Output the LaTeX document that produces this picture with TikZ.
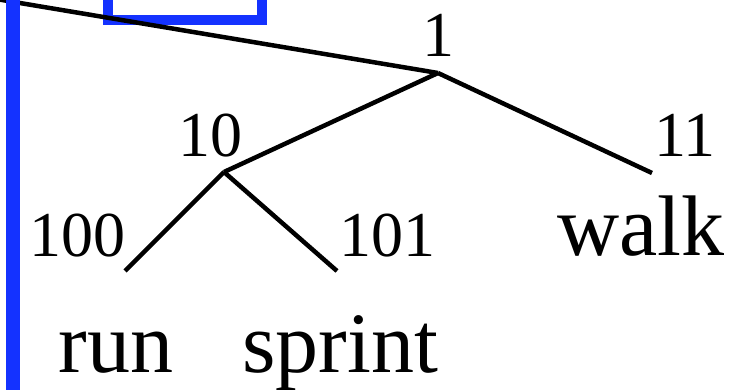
\documentclass[tikz,border=0pt]{standalone}
\usepackage{fontspec}
\setmainfont{Liberation Serif}
\definecolor{boxblue}{RGB}{20,50,255}
\tikzset{
  code/.style={anchor=base,inner sep=0pt,font=\fontsize{64}{64}\selectfont},
  word/.style={anchor=base,inner sep=0pt,font=\fontsize{86}{86}\selectfont},
  branch/.style={line width=4.5pt}
}
\begin{document}
\begin{tikzpicture}[x=1pt,y=-1pt]
\useasboundingbox (0,0) rectangle (755,390);
\coordinate (top) at (-10,-2);
\coordinate (n1) at (438,73);
\coordinate (n10) at (224,172);
\coordinate (n11) at (652,173);
\coordinate (n100) at (125,271);
\coordinate (n101) at (337,271);
\node[code] (l1) at (438,57) {1};
\node[code] (l10) at (210,157) {10};
\node[code] (l11) at (685,157) {11};
\node[code] (l100) at (77,256) {100};
\node[code] (l101) at (387,256) {101};
\node[word] (walk) at (641,255) {walk};
\node[word] (run) at (116,372) {run};
\node[word] (sprint) at (340,372) {sprint};
\draw[boxblue,line width=10pt] (108,-40) rectangle (262,20);
\draw[branch] (top) -- (n1);
\draw[branch] (n1) -- (n10);
\draw[branch] (n1) -- (n11);
\draw[branch] (n10) -- (n100);
\draw[branch] (n10) -- (n101);
\draw[boxblue,line width=14pt] (12.5,-10) -- (12.5,400);
\end{tikzpicture}
\end{document}
